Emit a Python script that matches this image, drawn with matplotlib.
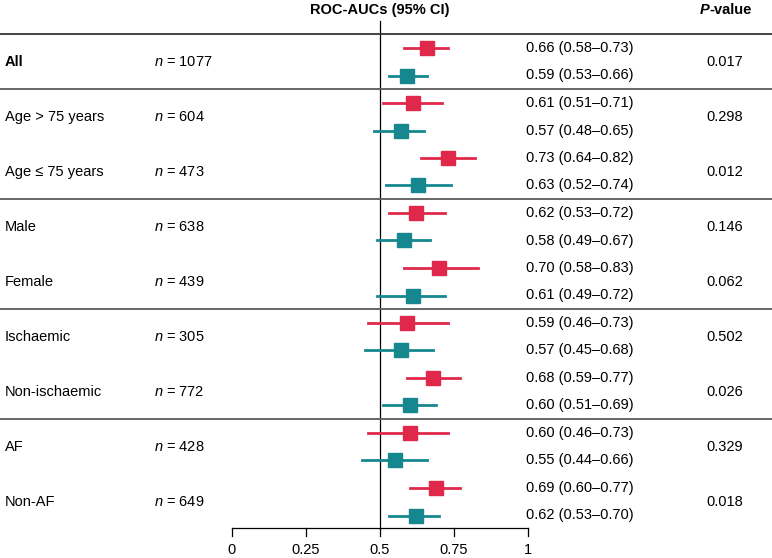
import matplotlib.pyplot as plt

plt.rcParams['font.family'] = ['Liberation Sans', 'DejaVu Sans']
plt.rcParams['mathtext.fontset'] = 'custom'
plt.rcParams['mathtext.rm'] = 'Liberation Sans'
plt.rcParams['mathtext.it'] = 'Liberation Sans:italic'
plt.rcParams['mathtext.bf'] = 'Liberation Sans:bold'

# ── Data ──────────────────────────────────────────────────────────────────────
groups = ["All", "Age > 75 years", "Age \u2264 75 years", "Male", "Female",
          "Ischaemic", "Non-ischaemic", "AF", "Non-AF"]
n_values = [1077, 604, 473, 638, 439, 305, 772, 428, 649]
p_values = ["0.017", "0.298", "0.012", "0.146", "0.062",
            "0.502", "0.026", "0.329", "0.018"]

red_auc = [0.66, 0.61, 0.73, 0.62, 0.70, 0.59, 0.68, 0.60, 0.69]
red_lo = [0.58, 0.51, 0.64, 0.53, 0.58, 0.46, 0.59, 0.46, 0.60]
red_hi = [0.73, 0.71, 0.82, 0.72, 0.83, 0.73, 0.77, 0.73, 0.77]

teal_auc = [0.59, 0.57, 0.63, 0.58, 0.61, 0.57, 0.60, 0.55, 0.62]
teal_lo = [0.53, 0.48, 0.52, 0.49, 0.49, 0.45, 0.51, 0.44, 0.53]
teal_hi = [0.66, 0.65, 0.74, 0.67, 0.72, 0.68, 0.69, 0.66, 0.70]

x_ticks = [0, 0.25, 0.5, 0.75, 1]
x_tick_labels = ["0", "0.25", "0.5", "0.75", "1"]

# ── Style ─────────────────────────────────────────────────────────────────────
RED = "#e0294a"
TEAL = "#17878f"
SEP = "#5a5a5a"
FS = 10.5

# ── Figure ────────────────────────────────────────────────────────────────────
W, H = 772, 558
fig = plt.figure(figsize=(W / 100, H / 100), dpi=100)
ax = fig.add_axes([0, 0, 1, 1])

# x: 0 -> px 232, 1 -> px 528 ; y: row k -> px 48 + 27.5 k
X0, X1 = 232, 528
sx = X1 - X0
Y0, DY = 48, 27.5
ax.set_xlim(-X0 / sx, (W - X0) / sx)
ax.set_ylim((H - Y0) / DY, -Y0 / DY)
ax.axis("off")


def px(x):
    return (x - X0) / sx


def fmt(a, lo, hi):
    return f"{a:.2f} ({lo:.2f}\u2013{hi:.2f})"


# header
y_head = -1.38
ax.text(0.5, y_head, "ROC-AUCs (95% CI)", ha="center", va="center",
        fontsize=FS, fontweight="bold")
ax.text(px(709), y_head, "P", ha="right", va="center", fontsize=FS,
        fontweight="bold", fontstyle="italic")
ax.text(px(709), y_head, "-value", ha="left", va="center", fontsize=FS,
        fontweight="bold")

# reference line at 0.5
ax.plot([0.5, 0.5], [-1.0, 17.5], color="black", lw=0.9, zorder=1)

# separators
ax.plot([px(0), px(W)], [-0.5, -0.5], color="#333333", lw=1.3)
for k in range(1, 17, 4):
    ax.plot([px(0), px(W)], [k + 0.5, k + 0.5], color=SEP, lw=1.3)

for i, g in enumerate(groups):
    r = 0 if i == 0 else 4 * ((i - 1) // 2) + 2 + 2 * ((i - 1) % 2)
    yr, yt = r, r + 1
    ymid = r + 0.5
    ax.text(px(5), ymid, g, ha="left", va="center", fontsize=FS,
            fontweight="bold" if i == 0 else "normal")
    ax.text(px(154), ymid, f"$\\it{{n}}$ = {n_values[i]}", ha="left",
            va="center", fontsize=FS)
    ax.plot([red_lo[i], red_hi[i]], [yr, yr], color=RED, lw=2, zorder=2)
    ax.plot(red_auc[i], yr, marker="s", ms=10.5, color=RED, zorder=3)
    ax.plot([teal_lo[i], teal_hi[i]], [yt, yt], color=TEAL, lw=2, zorder=2)
    ax.plot(teal_auc[i], yt, marker="s", ms=10.5, color=TEAL, zorder=3)
    ax.text(px(526), yr, fmt(red_auc[i], red_lo[i], red_hi[i]),
            ha="left", va="center", fontsize=FS)
    ax.text(px(526), yt, fmt(teal_auc[i], teal_lo[i], teal_hi[i]),
            ha="left", va="center", fontsize=FS)
    ax.text(px(725), ymid, p_values[i], ha="center", va="center", fontsize=FS)

# x axis
y_axis = 17.47
ax.plot([0, 1], [y_axis, y_axis], color="black", lw=0.9)
for t, lab in zip(x_ticks, x_tick_labels):
    ax.plot([t, t], [y_axis, y_axis + 0.26], color="black", lw=0.9)
    ax.text(t, 18.25, lab, ha="center", va="center", fontsize=FS)

fig.savefig("out.png", dpi=100, facecolor="white")
